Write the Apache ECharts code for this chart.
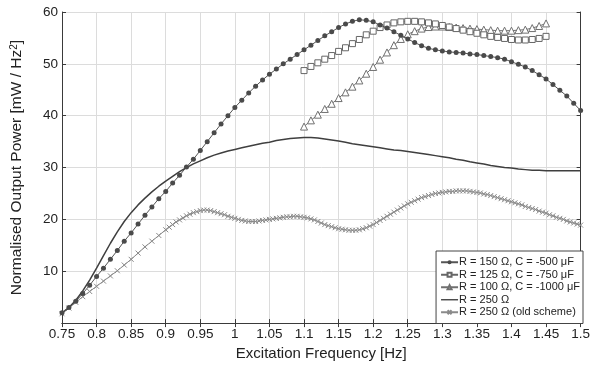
<!DOCTYPE html>
<html>
<head>
<meta charset="utf-8">
<script src="https://cdn.jsdelivr.net/npm/echarts@6/dist/echarts.min.js"></script>
<style>
html,body{margin:0;padding:0;background:#fff;}
#chart{width:593px;height:366px;}
</style>
</head>
<body>
<div id="chart"></div>
<script>
// ---- data ----
var xTickLabels = ['0.75','0.8','0.85','0.9','0.95','1','1.05','1.1','1.15','1.2','1.25','1.3','1.35','1.4','1.45','1.5'];
var yTickLabels = ['', '10', '20', '30', '40', '50', '60'];

var seriesNames = [
  'R = 150 \u03A9, C = -500 \u03BCF',
  'R = 125 \u03A9, C = -750 \u03BCF',
  'R = 100 \u03A9, C = -1000 \u03BCF',
  'R = 250 \u03A9',
  'R = 250 \u03A9 (old scheme)'
];

var freqFull = [0.75,0.76,0.77,0.78,0.79,0.80,0.81,0.82,0.83,0.84,0.85,0.86,0.87,0.88,0.89,0.90,0.91,0.92,0.93,0.94,
  0.95,0.96,0.97,0.98,0.99,1.00,1.01,1.02,1.03,1.04,1.05,1.06,1.07,1.08,1.09,1.10,1.11,1.12,1.13,1.14,
  1.15,1.16,1.17,1.18,1.19,1.20,1.21,1.22,1.23,1.24,1.25,1.26,1.27,1.28,1.29,1.30,1.31,1.32,1.33,1.34,
  1.35,1.36,1.37,1.38,1.39,1.40,1.41,1.42,1.43,1.44,1.45,1.46,1.47,1.48,1.49,1.50];

var powerR150 = [2.0,3.0,4.2,5.7,7.3,9.0,10.6,12.3,14.0,15.8,17.4,19.1,20.8,22.4,24.0,25.4,27.0,28.5,30.1,31.6,
  33.3,35.0,36.7,38.4,40.0,41.6,43.0,44.4,45.7,46.9,48.0,49.0,50.0,50.9,51.8,52.7,53.6,54.5,55.4,56.2,
  57.0,57.7,58.2,58.5,58.4,58.1,57.5,56.9,56.2,55.5,54.8,54.1,53.5,53.0,52.7,52.5,52.3,52.2,52.1,51.9,
  51.8,51.6,51.4,51.2,50.9,50.4,49.9,49.4,48.7,47.9,47.1,46.0,44.9,43.8,42.4,41.0];

var powerR250 = [2.0,3.0,4.4,6.2,8.3,10.6,13.0,15.4,17.6,19.6,21.3,22.8,24.1,25.3,26.4,27.4,28.3,29.2,30.0,30.7,
  31.3,31.9,32.4,32.8,33.2,33.5,33.8,34.1,34.4,34.7,34.9,35.2,35.4,35.6,35.7,35.8,35.8,35.7,35.5,35.3,
  35.1,34.9,34.6,34.4,34.2,34.0,33.8,33.6,33.4,33.3,33.1,32.9,32.7,32.5,32.3,32.1,31.9,31.6,31.4,31.1,
  30.9,30.7,30.4,30.2,30.0,29.9,29.7,29.6,29.5,29.5,29.4,29.4,29.4,29.4,29.4,29.4];

var freqShort = [1.10,1.11,1.12,1.13,1.14,1.15,1.16,1.17,1.18,1.19,1.20,1.21,1.22,1.23,1.24,1.25,1.26,1.27,
  1.28,1.29,1.30,1.31,1.32,1.33,1.34,1.35,1.36,1.37,1.38,1.39,1.40,1.41,1.42,1.43,1.44,1.45];

var powerR125 = [48.7,49.5,50.2,50.9,51.6,52.4,53.1,53.9,54.7,55.6,56.3,57.0,57.5,57.9,58.1,58.2,58.2,58.1,
  57.9,57.7,57.4,57.1,56.8,56.5,56.2,55.9,55.6,55.3,55.1,54.9,54.7,54.6,54.6,54.7,54.9,55.3];

var powerR100 = [37.9,39.1,40.2,41.3,42.3,43.4,44.5,45.6,46.8,48.1,49.4,50.8,52.2,53.6,54.8,55.7,56.3,56.8,
  57.1,57.2,57.2,57.1,57.0,56.9,56.8,56.7,56.6,56.5,56.4,56.4,56.4,56.5,56.6,56.9,57.3,57.8];

var freqOld = [0.75,0.76,0.77,0.78,0.79,0.80,0.81,0.82,0.83,0.84,0.85,0.86,0.87,0.88,0.89,0.90,
  0.905,0.91,0.915,0.92,0.925,0.93,0.935,0.94,0.945,0.95,0.955,0.96,0.965,0.97,0.975,0.98,0.985,0.99,0.995,1.00,
  1.005,1.01,1.015,1.02,1.025,1.03,1.035,1.04,1.045,1.05,1.055,1.06,1.065,1.07,1.075,1.08,1.085,1.09,1.095,1.10,
  1.105,1.11,1.115,1.12,1.125,1.13,1.135,1.14,1.145,1.15,1.155,1.16,1.165,1.17,1.175,1.18,1.185,1.19,1.195,1.20,
  1.205,1.21,1.215,1.22,1.225,1.23,1.235,1.24,1.245,1.25,1.255,1.26,1.265,1.27,1.275,1.28,1.285,1.29,1.295,1.30,
  1.305,1.31,1.315,1.32,1.325,1.33,1.335,1.34,1.345,1.35,1.355,1.36,1.365,1.37,1.375,1.38,1.385,1.39,1.395,1.40,
  1.405,1.41,1.415,1.42,1.425,1.43,1.435,1.44,1.445,1.45,1.455,1.46,1.465,1.47,1.475,1.48,1.485,1.49,1.495,1.50];

var powerOld = [1.8,2.9,4.0,5.1,6.1,7.1,8.1,9.1,10.1,11.2,12.3,13.5,14.7,15.8,16.9,18.0,
  18.5,19.0,19.5,19.9,20.3,20.7,21.0,21.3,21.5,21.7,21.8,21.8,21.7,21.5,21.3,21.1,20.9,20.6,20.4,20.2,
  20.0,19.8,19.7,19.6,19.6,19.6,19.7,19.8,19.9,20.0,20.1,20.2,20.3,20.4,20.5,20.5,20.6,20.6,20.5,20.4,
  20.3,20.1,19.9,19.6,19.3,19.0,18.8,18.6,18.4,18.2,18.1,18.0,17.9,17.9,17.9,18.0,18.2,18.4,18.7,19.0,
  19.4,19.8,20.2,20.6,21.0,21.4,21.8,22.2,22.6,23.0,23.3,23.6,23.9,24.2,24.4,24.6,24.8,25.0,25.1,25.2,
  25.3,25.4,25.4,25.5,25.5,25.5,25.5,25.4,25.3,25.2,25.1,24.9,24.8,24.6,24.4,24.2,24.0,23.8,23.6,23.4,
  23.2,23.0,22.8,22.5,22.3,22.1,21.9,21.6,21.4,21.2,20.9,20.7,20.4,20.2,20.0,19.7,19.5,19.3,19.1,18.9];

function pairs(xs, ys) { return xs.map(function (x, i) { return [x, ys[i]]; }); }

var FONT = '"Liberation Sans", Arial, sans-serif';
var xMin = 0.75, xMax = 1.5, xStep = 0.05;
var yMin = 0, yMax = 60, yStep = 10;

function xFmt(v) {
  var idx = Math.round((v - xMin) / xStep);
  return xTickLabels[idx] !== undefined ? xTickLabels[idx] : '';
}
function yFmt(v) {
  var idx = Math.round((v - yMin) / yStep);
  return yTickLabels[idx] !== undefined ? yTickLabels[idx] : '';
}

var chart = echarts.init(document.getElementById('chart'), null, { renderer: 'canvas' });

var axisLineStyle = { color: '#3a3a3a', width: 1 };
var CROSS = 'path://M0,0L10,10M10,0L0,10';

var option = {
  animation: false,
  backgroundColor: '#ffffff',
  grid: { left: 62, right: 10, top: 12, bottom: 42, containLabel: false },
  xAxis: [{
    type: 'value', min: xMin, max: xMax, interval: xStep,
    name: 'Excitation Frequency [Hz]', nameLocation: 'middle', nameGap: 21,
    nameTextStyle: { fontFamily: FONT, fontSize: 15, color: '#222' },
    axisLine: { show: true, lineStyle: axisLineStyle },
    axisTick: { show: true, inside: true, length: 4, lineStyle: axisLineStyle },
    axisLabel: { formatter: xFmt, fontFamily: FONT, fontSize: 13.5, color: '#222', margin: 4,
                 showMinLabel: true, showMaxLabel: true },
    splitLine: { show: true, lineStyle: { color: '#dcdcdc', width: 1 } }
  }, {
    type: 'value', position: 'top', min: xMin, max: xMax, interval: xStep,
    axisLine: { show: true, lineStyle: axisLineStyle },
    axisTick: { show: true, inside: true, length: 4, lineStyle: axisLineStyle },
    axisLabel: { show: false }, splitLine: { show: false }
  }],
  yAxis: [{
    type: 'value', min: yMin, max: yMax, interval: yStep,
    name: 'Normalised Output Power [mW / Hz{sup|2}]', nameLocation: 'middle', nameGap: 37,
    nameTextStyle: { fontFamily: FONT, fontSize: 15.5, color: '#222',
      rich: { sup: { fontFamily: FONT, fontSize: 10, color: '#222', verticalAlign: 'top', lineHeight: 12 } } },
    axisLine: { show: true, lineStyle: axisLineStyle },
    axisTick: { show: true, inside: true, length: 4, lineStyle: axisLineStyle },
    axisLabel: { formatter: yFmt, fontFamily: FONT, fontSize: 13.5, color: '#222', margin: 4 },
    splitLine: { show: true, lineStyle: { color: '#dcdcdc', width: 1 } }
  }, {
    type: 'value', position: 'right', min: yMin, max: yMax, interval: yStep,
    axisLine: { show: true, lineStyle: axisLineStyle },
    axisTick: { show: true, inside: true, length: 4, lineStyle: axisLineStyle },
    axisLabel: { show: false }, splitLine: { show: false }
  }],
  legend: {
    orient: 'vertical', right: 10, top: 251,
    backgroundColor: '#ffffff', borderColor: '#444', borderWidth: 1,
    padding: [5, 3, 5, 4], itemGap: 0, itemWidth: 17, itemHeight: 5,
    textStyle: { fontFamily: FONT, fontSize: 11, color: '#222', lineHeight: 12.5, padding: [0, 0, 0, -4] },
    data: [
      { name: seriesNames[0] },
      { name: seriesNames[1] },
      { name: seriesNames[2] },
      { name: seriesNames[3], icon: 'path://M0,0L20,0L20,1.6L0,1.6Z' },
      { name: seriesNames[4] }
    ]
  },
  series: [
    {
      name: seriesNames[4], type: 'line', data: pairs(freqOld, powerOld),
      symbol: CROSS, symbolSize: 5,
      itemStyle: { color: 'rgba(0,0,0,0)', borderColor: '#8a8a8a', borderWidth: 1 },
      lineStyle: { color: '#8a8a8a', width: 1 }, z: 2
    },
    {
      name: seriesNames[3], type: 'line', data: pairs(freqFull, powerR250),
      showSymbol: false, symbol: 'none',
      itemStyle: { color: '#3f3f3f' },
      lineStyle: { color: '#3f3f3f', width: 1.5 }, z: 3
    },
    {
      name: seriesNames[2], type: 'line', data: pairs(freqShort, powerR100),
      symbol: 'triangle', symbolSize: 7,
      itemStyle: { color: '#ffffff', borderColor: '#707070', borderWidth: 1 },
      lineStyle: { color: '#707070', width: 1 }, z: 4
    },
    {
      name: seriesNames[1], type: 'line', data: pairs(freqShort, powerR125),
      symbol: 'rect', symbolSize: 6,
      itemStyle: { color: '#ffffff', borderColor: '#666666', borderWidth: 1 },
      lineStyle: { color: '#666666', width: 1 }, z: 5
    },
    {
      name: seriesNames[0], type: 'line', data: pairs(freqFull, powerR150),
      symbol: 'circle', symbolSize: 5,
      itemStyle: { color: '#4a4a4a', borderColor: '#4a4a4a', borderWidth: 0 },
      lineStyle: { color: '#555555', width: 1 }, z: 6
    }
  ]
};
chart.setOption(option);
</script>
</body>
</html>
